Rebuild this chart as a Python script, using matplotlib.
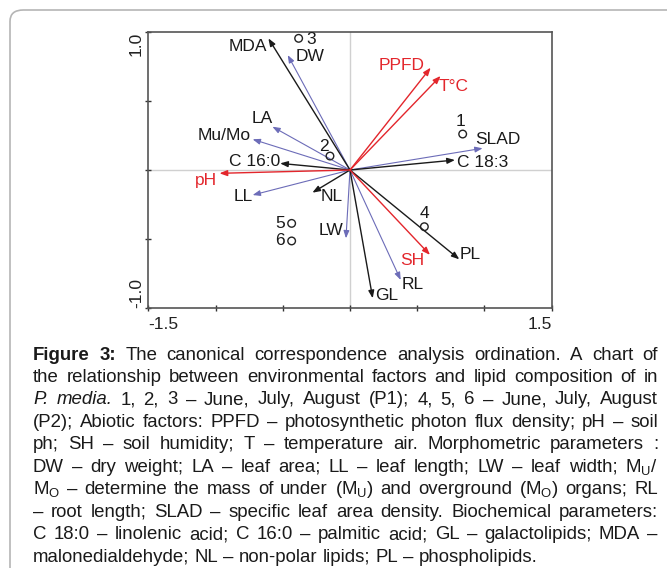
import matplotlib
matplotlib.use("Agg")
import matplotlib.pyplot as plt
from matplotlib.patches import FancyBboxPatch

plt.rcParams['font.family'] = ['Liberation Sans', 'DejaVu Sans']
plt.rcParams['mathtext.default'] = 'regular'

# ---------------- data ----------------
env_labels = ['PPFD', 'T°C', 'pH', 'SH']
env_x = [0.600, 0.674, -0.971, 0.595]
env_y = [0.740, 0.680, -0.024, -0.614]

morph_labels = ['DW', 'LA', 'Mu/Mo', 'LL', 'LW', 'RL', 'SLAD']
morph_x = [-0.463, -0.577, -0.724, -0.724, -0.030, 0.377, 0.986]
morph_y = [0.831, 0.313, 0.222, -0.181, -0.494, -0.795, 0.157]

bio_labels = ['MDA', 'C 16:0', 'NL', 'GL', 'PL', 'C 18:3']
bio_x = [-0.607, -0.520, -0.280, 0.169, 0.813, 0.781]
bio_y = [0.952, 0.048, -0.164, -0.928, -0.646, 0.072]

site_labels = ['1', '2', '3', '4', '5', '6']
site_x = [0.838, -0.149, -0.382, 0.553, -0.434, -0.434]
site_y = [0.260, 0.101, 0.952, -0.410, -0.386, -0.513]

# label placement (layout only)
label_pos = {
    'MDA': (-0.756, 0.896), 'DW': (-0.297, 0.819), 'PPFD': (0.384, 0.759),
    'T°C': (0.773, 0.607), 'SLAD': (1.103, 0.224), 'C 18:3': (0.986, 0.055),
    'LA': (-0.649, 0.369), 'Mu/Mo': (-0.937, 0.248), 'C 16:0': (-0.706, 0.060),
    'pH': (-1.071, -0.077), 'LL': (-0.793, -0.188), 'NL': (-0.136, -0.188),
    'LW': (-0.141, -0.441), 'SH': (0.463, -0.655), 'PL': (0.892, -0.610),
    'RL': (0.463, -0.831), 'GL': (0.273, -0.911),
}
site_label_pos = {
    '1': (0.825, 0.349), '2': (-0.193, 0.173), '3': (-0.290, 0.940),
    '4': (0.550, -0.313), '5': (-0.520, -0.386), '6': (-0.520, -0.513),
}

caption_lines = [
    "**Figure **3: The canonical correspondence analysis ordination. A chart of",
    "the relationship between environmental factors and lipid composition of in",
    "_P. _media. 1, 2, 3 – June, July, August (P1); 4, 5, 6 – June, July, August",
    "(P2); Abiotic factors: PPFD – photosynthetic photon flux density; pH – soil",
    "ph; SH – soil humidity; T – temperature air. Morphometric parameters :",
    "DW – dry weight; LA – leaf area; LL – leaf length; LW – leaf width; M$_U$/",
    "M$_O$ – determine the mass of under (M$_U$) and overground (M$_O$) organs; RL",
    "– root length; SLAD – specific leaf area density. Biochemical parameters:",
    "C 18:0 – linolenic acid; C 16:0 – palmitic acid; GL – galactolipids; MDA –",
    "malonedialdehyde; NL – non-polar lipids; PL – phospholipids.",
]

# ---------------- figure ----------------
W, H = 667, 568
fig = plt.figure(figsize=(W / 100, H / 100), dpi=100)

# outer rounded frame (only top and left visible)
frame = FancyBboxPatch((10 / W, -0.2), 1.2, (H - 10) / H + 0.2,
                       boxstyle="round,pad=0,rounding_size=0.02",
                       transform=fig.transFigure, fill=False,
                       edgecolor='#b5b5b5', lw=1.2)
fig.patches.append(frame)

ax = fig.add_axes([148.3 / W, 1 - 308.3 / H, (551.7 - 148.3) / W, (308.3 - 31.7) / H])
ax.set_xlim(-1.5, 1.5)
ax.set_ylim(-1.0, 1.0)

for s in ax.spines.values():
    s.set_color('#555555')
    s.set_linewidth(1.2)

ax.axhline(0, color='#d0d0d0', lw=1.0, zorder=0)
ax.axvline(0, color='#d0d0d0', lw=1.0, zorder=0)

ax.set_xticks([-1.5, -1.0, -0.5, 0, 0.5, 1.0, 1.5])
ax.set_xticklabels(['-1.5', '', '', '', '', '', '1.5'])
ax.set_yticks([-1.0, -0.5, 0, 0.5, 1.0])
ax.set_yticklabels(['-1.0', '', '', '', '1.0'], rotation=90)
ax.tick_params(direction='inout', length=5, width=1, color='#333333',
               labelsize=12.5, labelcolor='#222222')
ax.tick_params(axis='x', pad=4)
ax.tick_params(axis='y', pad=6)
xl = ax.get_xticklabels()
xl[0].set_ha('left')
xl[-1].set_ha('right')
yl = ax.get_yticklabels()
yl[0].set_va('bottom')
yl[-1].set_va('top')
for t in yl:
    t.set_ha('center')

RED = '#e3262c'
BLUE = '#6c6cb8'
BLACK = '#1a1a1a'


def arrows(xs, ys, labels, color, lw, tcolor):
    for x, y, lab in zip(xs, ys, labels):
        ax.annotate('', xy=(x, y), xytext=(0, 0),
                    arrowprops=dict(arrowstyle='-|>,head_length=0.45,head_width=0.17',
                                    color=color, lw=lw, shrinkA=0, shrinkB=0,
                                    mutation_scale=10))
        lx, ly = label_pos[lab]
        ax.text(lx, ly, lab, color=tcolor, fontsize=12.5, ha='center', va='center')


arrows(morph_x, morph_y, morph_labels, BLUE, 0.8, BLACK)
arrows(bio_x, bio_y, bio_labels, BLACK, 1.0, BLACK)
arrows(env_x, env_y, env_labels, RED, 1.0, RED)

ax.scatter(site_x, site_y, s=30, facecolors='none', edgecolors='#222222',
           linewidths=1.0, zorder=5)
for lab in site_labels:
    lx, ly = site_label_pos[lab]
    ax.text(lx, ly, lab, color=BLACK, fontsize=12.5, ha='center', va='center')

# ---------------- caption (justified) ----------------
fig.canvas.draw()
renderer = fig.canvas.get_renderer()
left_px, right_px = 33, 658
y0, dy = 359.5, 22.45
fs = 13.4


def make_word(tok):
    kw = {}
    if tok.startswith('**'):
        tok = tok[2:]
        kw['fontweight'] = 'bold'
    elif tok.startswith('_'):
        tok = tok[1:]
        kw['fontstyle'] = 'italic'
    return tok, kw


space_t = fig.text(0, 0, 'a a', fontsize=fs)
aa = fig.text(0, 0, 'aa', fontsize=fs)
space_w = space_t.get_window_extent(renderer).width - aa.get_window_extent(renderer).width
space_t.remove()
aa.remove()

for i, line in enumerate(caption_lines):
    toks = line.split()
    ypx = y0 + i * dy
    words = []
    for tok in toks:
        txt, kw = make_word(tok)
        t = fig.text(0, 1 - ypx / H, txt, fontsize=fs, va='baseline',
                     ha='left', color='#1a1a1a', **kw)
        w = t.get_window_extent(renderer).width
        words.append((t, w))
    total = sum(w for _, w in words)
    last = (i == len(caption_lines) - 1)
    if last or len(words) < 2:
        gap = space_w
    else:
        gap = (right_px - left_px - total) / (len(words) - 1)
    x = left_px
    for t, w in words:
        t.set_x(x / W)
        x += w + gap

fig.savefig('out.png', dpi=100)
